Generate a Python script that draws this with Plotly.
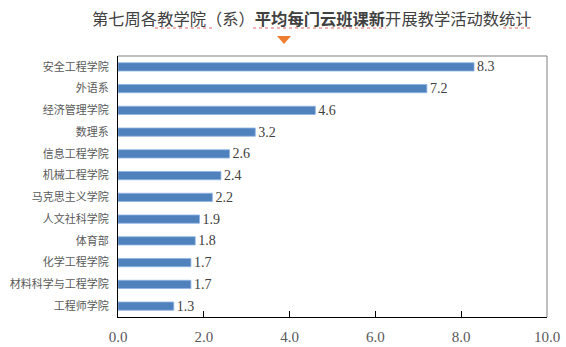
import plotly.graph_objects as go

departments = ["安全工程学院", "外语系", "经济管理学院", "数理系", "信息工程学院", "机械工程学院",
               "马克思主义学院", "人文社科学院", "体育部", "化学工程学院", "材料科学与工程学院", "工程师学院"]
avg_activities = [8.3, 7.2, 4.6, 3.2, 2.6, 2.4, 2.2, 1.9, 1.8, 1.7, 1.7, 1.3]
x_ticks = [0, 2, 4, 6, 8, 10]
x_tick_labels = ["0.0", "2.0", "4.0", "6.0", "8.0", "10.0"]

CJK = "Noto Sans CJK SC"
SERIF = "Liberation Serif"

ML, MR, MT, MB = 118, 19, 56, 30
W, H = 566, 347
plot_w = W - ML - MR
plot_h = H - MT - MB


def px_x(px):
    return (px - ML) / plot_w


def px_y(py):
    return (H - MB - py) / plot_h


fig = go.Figure(go.Bar(
    x=avg_activities,
    y=departments,
    orientation="h",
    width=0.38,
    marker=dict(color="#4F81BD", line=dict(color="#8EB4E3", width=0.8)),
    text=[f"{v:.1f}" for v in avg_activities],
    textposition="outside",
    constraintext="none",
    textfont=dict(family=SERIF, size=14, color="#404040"),
    cliponaxis=False,
))

fig.update_layout(
    width=W, height=H,
    margin=dict(l=ML, r=MR, t=MT, b=MB),
    plot_bgcolor="white", paper_bgcolor="white",
    showlegend=False,
    xaxis=dict(
        range=[0, 10], tickvals=x_ticks, ticktext=x_tick_labels,
        ticks="inside", ticklen=6, tickcolor="#000000", tickwidth=1,
        showgrid=False, zeroline=False,
        showline=True, linecolor="#000000", linewidth=1.2, mirror=False,
        tickfont=dict(family=SERIF, size=15, color="#595959"),
        ticklabelstandoff=6, automargin=False,
    ),
    yaxis=dict(
        autorange="reversed", showgrid=False, zeroline=False,
        showline=True, linecolor="#000000", linewidth=1.2,
        ticks="", tickfont=dict(family=CJK, size=11, color="#595959"),
        ticklabelstandoff=6, automargin=False,
    ),
    annotations=[
        dict(
            text="第七周各教学院（系）<b>平均每门云班课新</b>开展教学活动数统计",
            x=px_x(312), y=px_y(18), xref="paper", yref="paper", showarrow=False,
            font=dict(family=CJK, size=16.3, color="#404040"),
            xanchor="center", yanchor="middle",
        ),
    ],
)

shapes = [
    # top and right frame in grey
    dict(type="line", xref="paper", yref="paper", x0=0, x1=1, y0=1, y1=1,
         line=dict(color="#808080", width=1)),
    dict(type="line", xref="paper", yref="paper", x0=1, x1=1, y0=0, y1=1,
         line=dict(color="#808080", width=1)),
    # orange marker under the title
    dict(type="path", xref="paper", yref="paper",
         path=f"M {px_x(277)} {px_y(36)} L {px_x(291)} {px_y(36)} L {px_x(284)} {px_y(44)} Z",
         fillcolor="#ED7D31", line=dict(width=0)),
]
# dotted red underlines beneath parts of the title
for a, b in [(155, 212), (253, 386), (503, 533)]:
    shapes.append(dict(type="line", xref="paper", yref="paper",
                       x0=px_x(a), x1=px_x(b), y0=px_y(28), y1=px_y(28),
                       line=dict(color="#E06666", width=1, dash="dot")))
fig.update_layout(shapes=shapes)

fig.write_html("out.html")
